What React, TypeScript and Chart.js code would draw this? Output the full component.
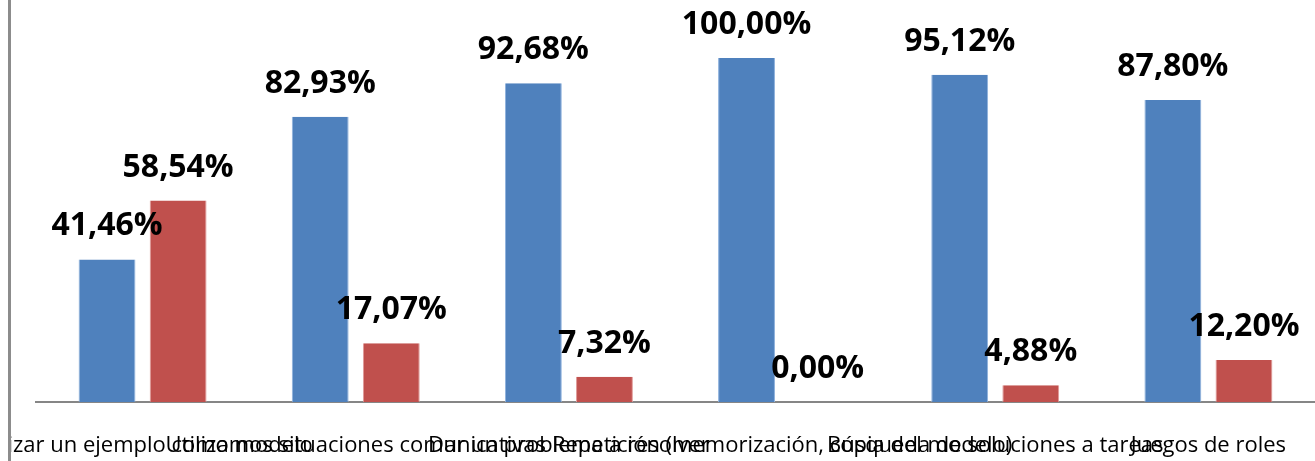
import React, { useEffect, useRef } from "react";
import { Chart, registerables } from "chart.js";

Chart.register(...registerables);

const categories = [
  "Utilizar un ejemplo como modelo",
  "Utilizamos situaciones comunicativas",
  "Dar un problema a resolver",
  "Repetición (memorización, copia del modelo)",
  "Búsqueda de soluciones a tareas",
  "Juegos de roles",
];
const seriesSi = [41.46, 82.93, 92.68, 100.0, 95.12, 87.8];
const seriesNo = [58.54, 17.07, 7.32, 0.0, 4.88, 12.2];

const valueLabels = {
  id: "valueLabels",
  afterDatasetsDraw(chart: any) {
    const ctx = chart.ctx;
    ctx.save();
    ctx.font = "bold 32px 'Open Sans'";
    ctx.fillStyle = "#000000";
    ctx.textAlign = "center";
    ctx.textBaseline = "middle";
    chart.data.datasets.forEach((ds: any, di: number) => {
      const meta = chart.getDatasetMeta(di);
      meta.data.forEach((el: any, i: number) => {
        const v = ds.data[i] as number;
        const txt = v.toFixed(2).replace(".", ",") + "%";
        ctx.fillText(txt, el.x, el.y - 33);
      });
    });
    ctx.restore();
  },
};

const leftEdge = {
  id: "leftEdge",
  afterDraw(chart: any) {
    const ctx = chart.ctx;
    ctx.save();
    ctx.fillStyle = "#ffffff";
    ctx.fillRect(0, 0, 8, chart.height);
    ctx.fillStyle = "#8c8c8c";
    ctx.fillRect(8, 0, 3, chart.height);
    ctx.restore();
  },
};

export default function App() {
  const ref = useRef<HTMLCanvasElement>(null);
  useEffect(() => {
    document.body.style.margin = "0";
    const chart = new Chart(ref.current as HTMLCanvasElement, {
      type: "bar",
      data: {
        labels: categories,
        datasets: [
          {
            label: "Sí",
            data: seriesSi,
            backgroundColor: "#4F81BD",
            borderColor: "#8fb2dd",
            borderWidth: { left: 1, right: 1, top: 0, bottom: 0 },
            categoryPercentage: 0.667,
            barPercentage: 0.8,
          },
          {
            label: "No",
            data: seriesNo,
            backgroundColor: "#C0504D",
            borderColor: "#e09a98",
            borderWidth: { left: 1, right: 1, top: 0, bottom: 0 },
            categoryPercentage: 0.667,
            barPercentage: 0.8,
          },
        ],
      },
      options: {
        responsive: false,
        animation: false,
        layout: { padding: { left: 36, right: 0, top: 58, bottom: 0 } },
        plugins: {
          legend: { display: false },
          tooltip: { enabled: false },
        },
        scales: {
          x: {
            grid: { display: false, drawTicks: false, tickLength: 0 },
            border: { display: true, color: "#868686", width: 2 },
            ticks: {
              autoSkip: false,
              maxRotation: 0,
              minRotation: 0,
              padding: 31,
              color: "#000000",
              font: { family: "'Open Sans'", size: 22 },
            },
            afterFit: (scale: any) => {
              scale.height = 59;
              scale.paddingLeft = 0;
              scale.paddingRight = 0;
            },
          },
          y: {
            display: false,
            min: 0,
            max: 100,
          },
        },
      },
      plugins: [valueLabels, leftEdge],
    });
    return () => chart.destroy();
  }, []);
  return (
    <div style={{ width: 1315, height: 461 }}>
      <canvas ref={ref} width={1315} height={461} style={{ display: "block" }} />
    </div>
  );
}
